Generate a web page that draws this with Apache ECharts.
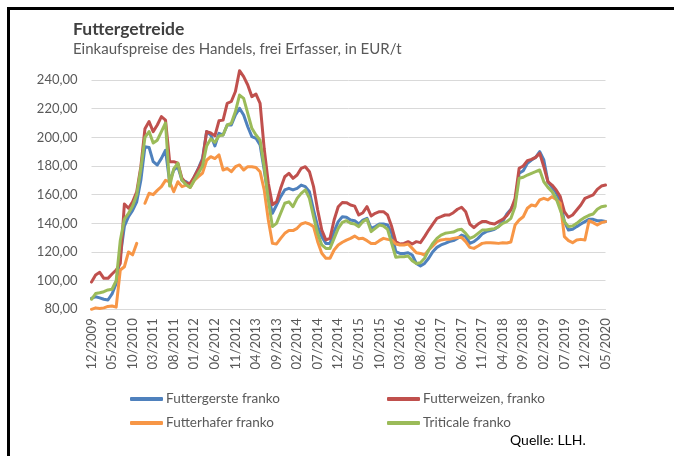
<!DOCTYPE html>
<html>
<head>
<meta charset="utf-8">
<script src="https://cdn.jsdelivr.net/npm/echarts@6/dist/echarts.min.js"></script>
<style>
html,body{margin:0;padding:0;background:#fff;}
#chart{width:674px;height:456px;}
</style>
</head>
<body>
<div id="chart"></div>
<script>
const categories = [
  '12/2009',
  '01/2010','02/2010','03/2010','04/2010','05/2010','06/2010','07/2010','08/2010','09/2010','10/2010','11/2010','12/2010',
  '01/2011','02/2011','03/2011','04/2011','05/2011','06/2011','07/2011','08/2011','09/2011','10/2011','11/2011','12/2011',
  '01/2012','02/2012','03/2012','04/2012','05/2012','06/2012','07/2012','08/2012','09/2012','10/2012','11/2012','12/2012',
  '01/2013','02/2013','03/2013','04/2013','05/2013','06/2013','07/2013','08/2013','09/2013','10/2013','11/2013','12/2013',
  '01/2014','02/2014','03/2014','04/2014','05/2014','06/2014','07/2014','08/2014','09/2014','10/2014','11/2014','12/2014',
  '01/2015','02/2015','03/2015','04/2015','05/2015','06/2015','07/2015','08/2015','09/2015','10/2015','11/2015','12/2015',
  '01/2016','02/2016','03/2016','04/2016','05/2016','06/2016','07/2016','08/2016','09/2016','10/2016','11/2016','12/2016',
  '01/2017','02/2017','03/2017','04/2017','05/2017','06/2017','07/2017','08/2017','09/2017','10/2017','11/2017','12/2017',
  '01/2018','02/2018','03/2018','04/2018','05/2018','06/2018','07/2018','08/2018','09/2018','10/2018','11/2018','12/2018',
  '01/2019','02/2019','03/2019','04/2019','05/2019','06/2019','07/2019','08/2019','09/2019','10/2019','11/2019','12/2019',
  '01/2020','02/2020','03/2020','04/2020','05/2020'
];

const futtergerste = [
  87.6,
  88.8,88,87,86.5,90.7,98,117,138,144.6,149,155,170,
  193.5,193,183,180.7,185.3,191,169,177.2,179.5,170,169,166.7,
  172.5,178.4,185.3,204,201.6,194,202.8,201.6,208.6,208.6,215.6,220.2,
  215.6,207.4,200.5,199.3,194.6,177.2,158.6,147,152.8,158.6,163.3,164.4,
  163.3,164.4,166.7,165.6,162,149.3,137.7,130.7,126,126,134.2,141.2,
  144.6,144.3,142.3,141.8,139.5,142.3,143.5,136.5,137.7,139.5,139.5,138.8,
  133,120.2,119,119,119.5,117.9,112,110.2,112,115.6,120.2,123.2,
  124.9,126,127.2,127.9,129.5,131.8,130.7,126,127.2,129.5,132.5,134.2,
  134.9,135.8,137.7,141.2,146.5,149.8,155.1,174.9,176.7,181.9,184.2,186,
  190,184.2,169,165.1,161.4,155.1,141.2,135.3,135.8,137.7,139.5,141.2,
  142.8,142.8,141.8,141.8,141.2
];

const futterweizen = [
  99,
  104,105.8,101.6,101.6,104.6,107.4,112,153.5,150.5,155,162,179.5,
  206,211,204,208.6,214.4,212,183,183,182,171.4,168,168,
  172.5,178,184,204,203,201,211.5,212,223.7,225,232,246.5,
  242.3,236.5,228.4,230.2,223.7,192,168,153,155,164.4,172.5,174.9,
  171.4,173.7,178.4,179.5,176,165.6,149.3,135.3,128.4,129.5,142.3,151.6,
  154.5,154.4,152.8,152,145.8,147.4,151.6,145.1,147,148.1,148.1,145.8,
  137.7,127.2,125.6,126,127.2,125.6,127.2,126.5,130.7,135.3,139.5,143.5,
  144.6,145.8,145.8,147.4,149.8,151.2,148.1,139.5,137,139.5,141.2,141.2,
  140,139.5,141.2,142.8,145.3,149.3,157.4,178.4,180,183.7,184.6,186,
  188.8,179.5,169,166.7,163.3,158.6,148.1,144.2,145.8,149.3,152.8,157.4,
  158.6,159.8,163.7,166,166.7
];

const futterhafer = [
  80,
  81,80.5,81,82,82.3,81.5,107.4,109.7,120,118,126,null,
  154,161,160,163,165.6,170,169,162,169,165.6,166.7,165,
  170,172.5,175,184,186.5,185.2,187.7,177.2,178.4,176,179.5,180.7,
  177.2,179.5,179.5,179,176,163.3,142.3,126,125.6,129.5,133,134.9,
  134.9,136.5,139.5,140.5,139.5,137.7,127.2,119.1,115.6,115.6,121.4,124.9,
  126.8,128.3,129.5,131.1,129.3,129.5,127.9,126,126,127.9,129.5,128.8,
  128.4,125.6,124.9,124.9,125.6,122.5,119.5,119,117.9,121.4,124.2,127.2,
  128.4,128.8,128.8,129.5,130,130.2,127.2,123.2,122.5,124.2,126,126.5,
  126.5,126.3,126,126.5,126.3,127,138.8,142.3,144.6,150.5,152.8,152.1,
  156.3,157.4,156.3,158.6,156.7,154,130.7,127.9,126.5,128.4,128.8,128.4,
  141.8,140.5,138.8,140.5,141.2
];

const triticale = [
  87,
  91,91.6,92.3,93.5,94,100,128,143,147,152,160,178,
  200,204,196,198,204,210,166,178,182,170,167,165,
  170,175,180,194,199,196.5,201,201.6,208.6,209.8,218,229.5,
  227.2,216.7,206.3,201.6,198,179.5,156.3,137.7,140,147,154,155,
  151.6,157.4,160.9,163.3,157.4,144.6,133,124.9,122.5,122.5,129.5,136.5,
  140.6,141.8,140,139.5,137.7,141.2,142.8,134.2,136.5,138.8,138.1,135.8,
  126,116.3,116.7,116.7,117.2,113.9,112,112.5,115.6,121.4,126,129.5,
  131.8,133,133.5,133.9,135.3,135.8,133,129.5,130.7,133,135.3,135.3,
  135.8,136.3,137.7,140,141.2,143.5,151.6,171.4,172.1,173.7,174.9,176,
  177.2,169,165.1,162.1,157.4,149.3,141.2,137.7,138.1,140,142.3,144.2,
  145.6,146.5,149.8,151.6,152.1
];

const seriesNames = ['Futtergerste franko','Futterweizen, franko','Futterhafer franko','Triticale franko'];
const seriesColors = ['#4F81BD','#C0504D','#F79646','#9BBB59'];
const seriesData = [futtergerste, futterweizen, futterhafer, triticale];

const titleText = 'Futtergetreide';
const subtitleText = 'Einkaufspreise des Handels, frei Erfasser, in EUR/t';
const sourceText = 'Quelle: LLH.';

const FONT = 'Lato, "Open Sans", sans-serif';
const TEXT_COLOR = '#595959';

const chart = echarts.init(document.getElementById('chart'), null, {renderer: 'canvas'});

const legendCommon = {
  orient: 'vertical',
  top: 386,
  itemWidth: 33,
  itemHeight: 4,
  itemGap: 8,
  icon: 'roundRect',
  textStyle: {fontFamily: FONT, fontSize: 13.5, color: TEXT_COLOR, padding: [0,0,0,-2], lineHeight: 16}
};

chart.setOption({
  animation: false,
  backgroundColor: '#ffffff',
  grid: {left: 91.5, right: 68.5, top: 80, bottom: 146.7, containLabel: false},
  legend: [
    Object.assign({}, legendCommon, {left: 125, data: [seriesNames[0], seriesNames[2]]}),
    Object.assign({}, legendCommon, {left: 382, data: [seriesNames[1], seriesNames[3]]})
  ],
  xAxis: {
    type: 'category',
    data: categories,
    boundaryGap: false,
    axisLine: {show: true, lineStyle: {color: '#D9D9D9', width: 1}},
    axisTick: {show: false},
    axisLabel: {
      interval: 4,
      rotate: 90,
      margin: 9,
      fontFamily: FONT,
      fontSize: 13,
      color: TEXT_COLOR
    },
    splitLine: {show: false}
  },
  yAxis: {
    type: 'value',
    min: 80,
    max: 240,
    interval: 20,
    axisLine: {show: false},
    axisTick: {show: false},
    axisLabel: {
      margin: 14,
      fontFamily: FONT,
      fontSize: 13,
      color: TEXT_COLOR,
      formatter: v => v.toFixed(2).replace('.', ',')
    },
    splitLine: {lineStyle: {color: '#D9D9D9', width: 1}}
  },
  series: seriesData.map((d, i) => ({
    name: seriesNames[i],
    type: 'line',
    data: d,
    showSymbol: false,
    symbol: 'none',
    clip: false,
    connectNulls: false,
    lineStyle: {color: seriesColors[i], width: 3, cap: 'round', join: 'round'},
    itemStyle: {color: seriesColors[i]}
  })),
  graphic: [
    {type: 'line', shape: {x1: 7, y1: 8.5, x2: 674, y2: 8.5}, style: {stroke: '#000', lineWidth: 3}},
    {type: 'line', shape: {x1: 8.5, y1: 7, x2: 8.5, y2: 456}, style: {stroke: '#000', lineWidth: 3}},
    {type: 'text', left: 73, top: 20, style: {text: titleText, font: 'bold 17.5px ' + FONT, fill: '#404040'}},
    {type: 'text', left: 73, top: 42, style: {text: subtitleText, font: '15px ' + FONT, fill: TEXT_COLOR}},
    {type: 'text', left: 510, top: 433, style: {text: sourceText, font: '14px ' + FONT, fill: '#000'}}
  ]
});
</script>
</body>
</html>
